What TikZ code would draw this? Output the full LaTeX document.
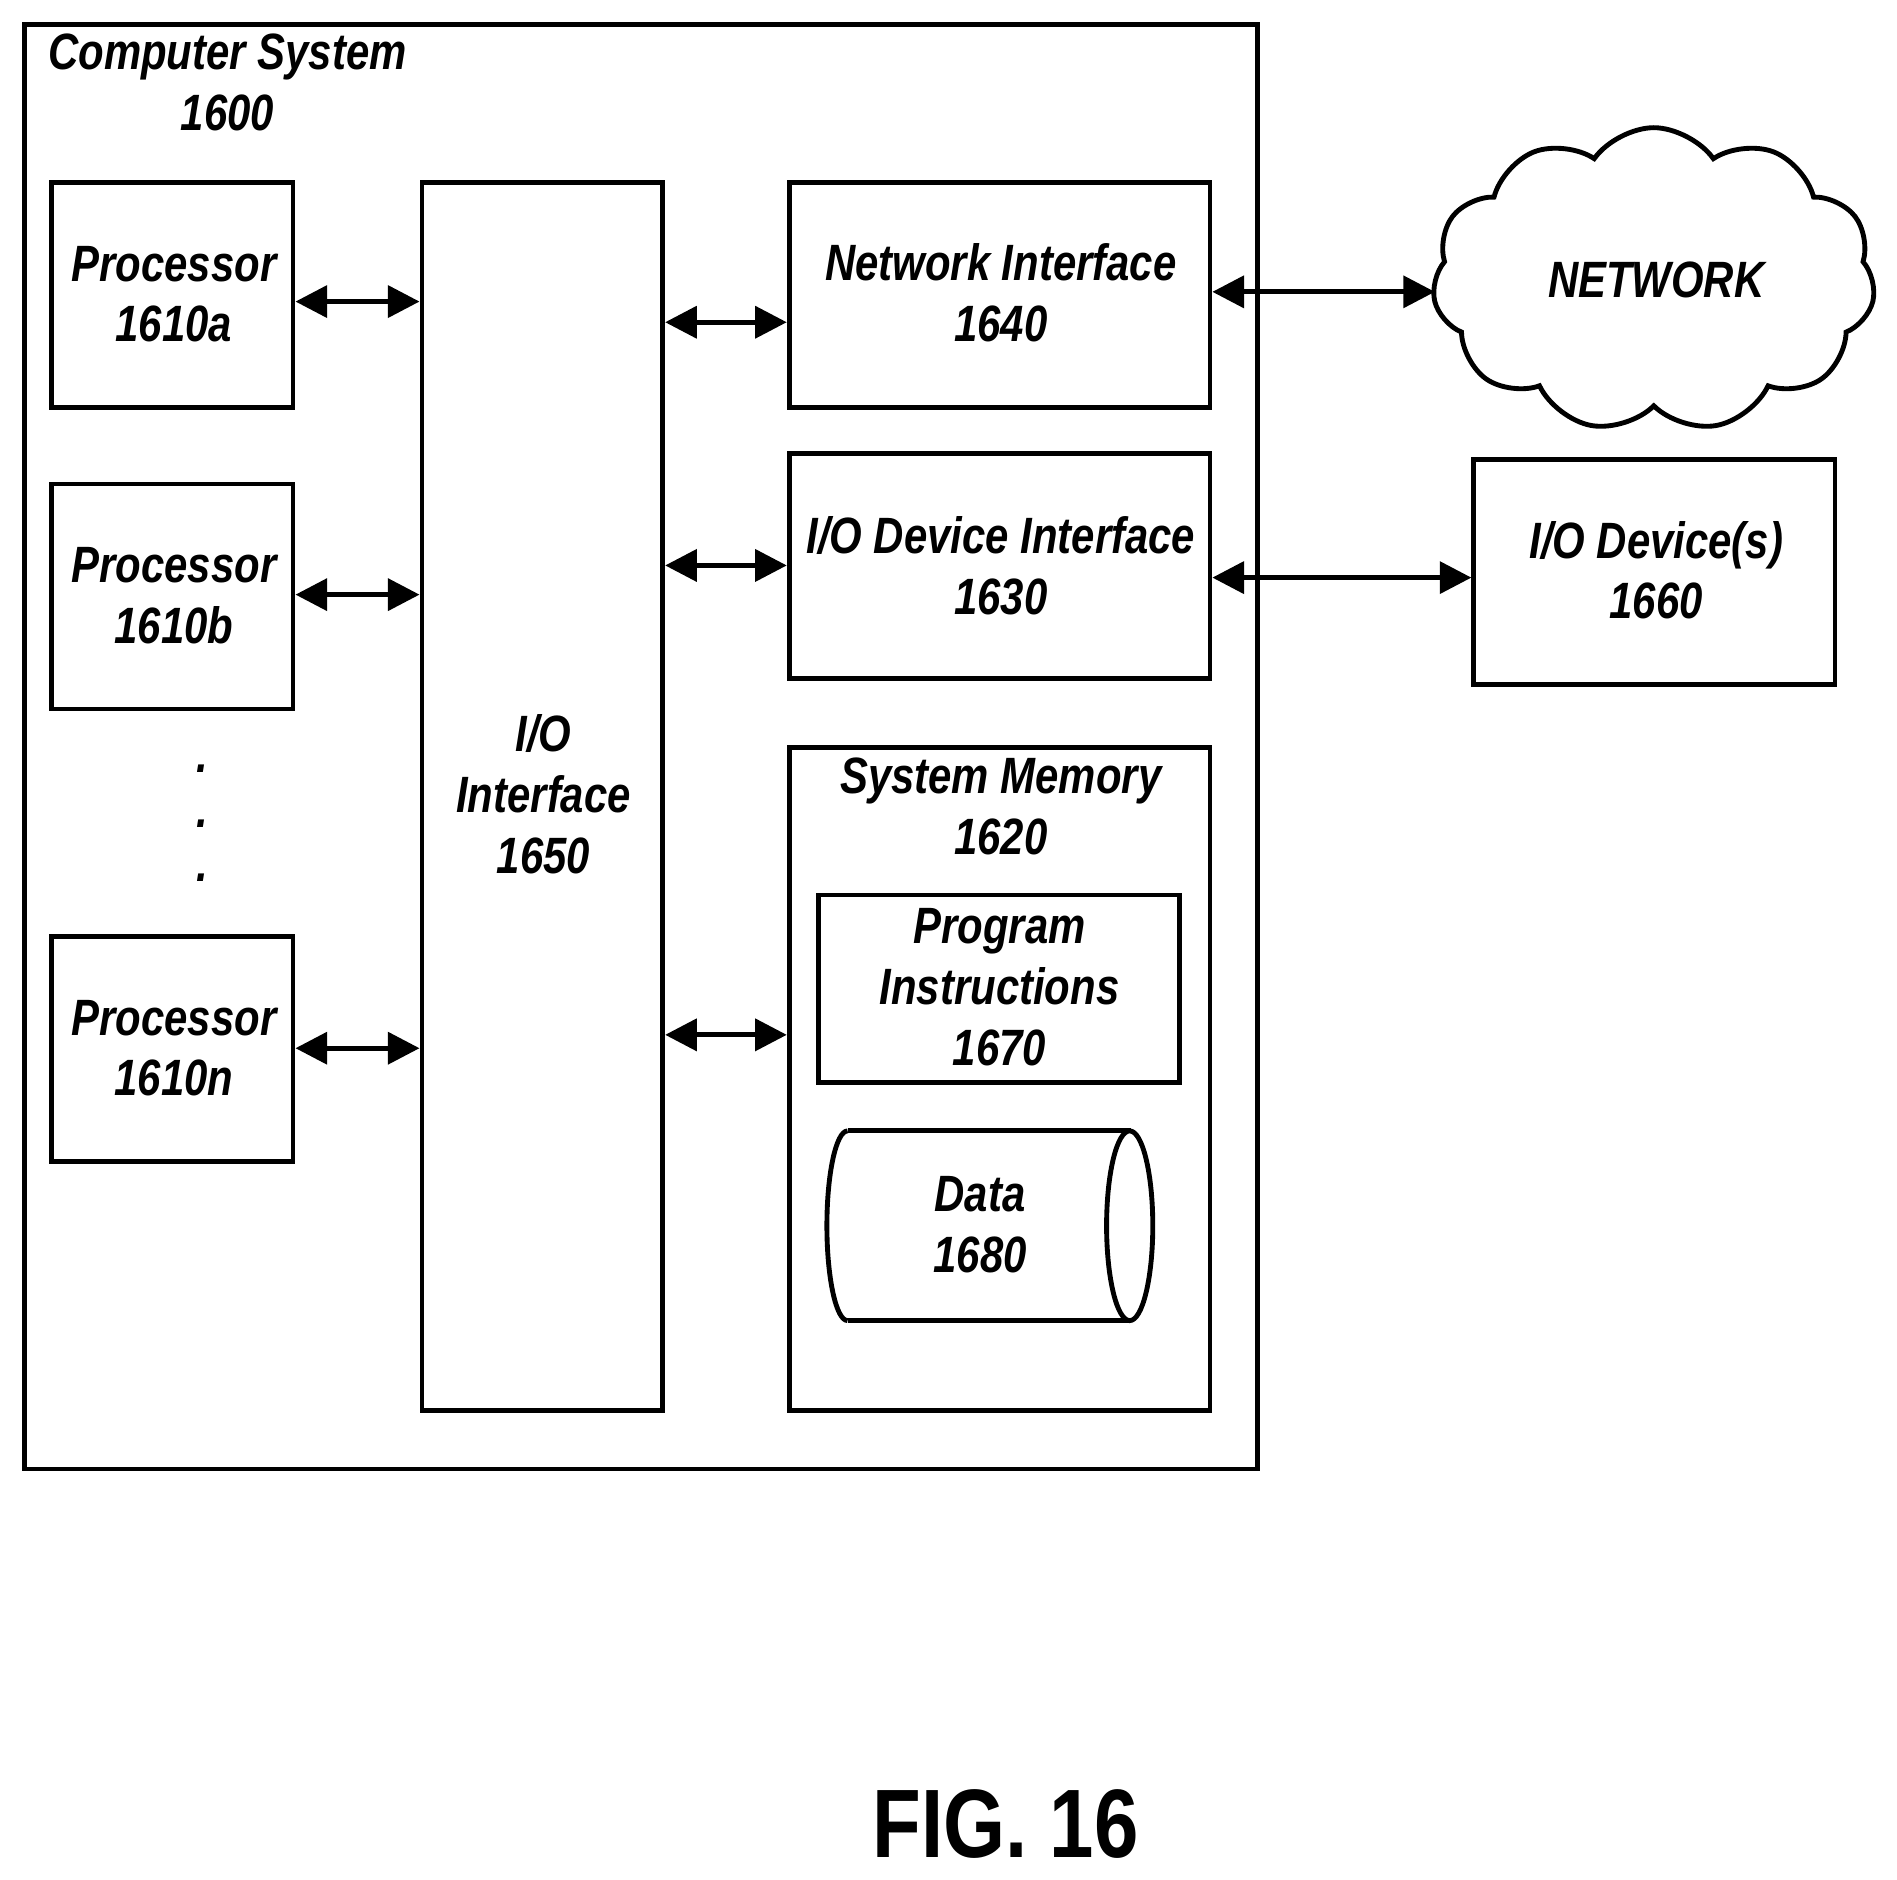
\documentclass[tikz,border=0pt]{standalone}
\usepackage{fontspec}
\setmainfont{Liberation Sans}[FakeStretch=0.82]
\usetikzlibrary{arrows.meta,shapes.symbols}
\begin{document}
\begin{tikzpicture}[x=0.5pt,y=-0.5pt,
  box/.style={draw,line width=2pt,inner sep=0pt},
  lbl/.style={align=center,font=\fontsize{21}{25}\selectfont\bfseries\itshape},
  arr/.style={line width=2pt,{Triangle[length=13pt,width=13pt]}-{Triangle[length=13pt,width=13pt]}}]
\useasboundingbox (0,0) rectangle (1560,1546);
\node[box,minimum width=507pt,minimum height=594pt] (cs) at (527,614) {};
\node[lbl] (cst) at (187,68) {Computer System\\1600};
\node[box,minimum width=99.5pt,minimum height=92.5pt] (pa) at (141.5,242.5) {};
\node[lbl] at (143,242) {Processor\\1610a};
\node[box,minimum width=99.5pt,minimum height=92.5pt] (pb) at (141.5,490.5) {};
\node[lbl] at (143,490) {Processor\\1610b};
\node[box,minimum width=99.5pt,minimum height=92.5pt] (pn) at (141.5,862.5) {};
\node[lbl] at (143,862) {Processor\\1610n};
\foreach \y/\n in {640/d1,685/d2,730/d3} \node[lbl] (\n) at (166,\y-8) {.};
\node[box,minimum width=99pt,minimum height=505pt] (io) at (446,655) {};
\node[lbl] at (447,653) {I/O\\Interface\\1650};
\node[box,minimum width=173pt,minimum height=92.5pt] (ni) at (822,242.5) {};
\node[lbl] at (823,241) {Network Interface\\1640};
\node[box,minimum width=173pt,minimum height=92.5pt] (iodi) at (822,465.5) {};
\node[lbl] at (823,465) {I/O Device Interface\\1630};
\node[box,minimum width=173pt,minimum height=272.5pt] (sm) at (822,887.5) {};
\node[lbl] at (823,663) {System Memory\\1620};
\node[box,minimum width=148.5pt,minimum height=77pt] (pi) at (821.5,813) {};
\node[lbl] at (822,812) {Program\\Instructions\\1670};
\node[box,minimum width=148.5pt,minimum height=92.5pt] (iod) at (1360.5,470.5) {};
\node[lbl] at (1362,469) {I/O Device(s)\\1660};
\node[draw,line width=2pt,cloud,cloud puffs=11,cloud puff arc=110,aspect=1.6,minimum width=182pt,minimum height=125pt] (net) at (1360,230) {};
\node[lbl] at (1362,230) {NETWORK};
% data cylinder
\coordinate (dtl) at (697,930);
\draw[line width=2pt] (dtl) -- (930,930) (697,1086) -- (930,1086);
\draw[line width=2pt] (929,1008) ellipse [x radius=9.5pt,y radius=39pt];
\draw[line width=2pt] (dtl) arc[start angle=90,end angle=270,x radius=8.5pt,y radius=39pt];
\node[lbl] (data) at (806,1007) {Data\\1680};
% arrows
\draw[arr] (pa.east |- 0,248) -- (io.west |- 0,248);
\draw[arr] (pb.east |- 0,489) -- (io.west |- 0,489);
\draw[arr] (pn.east |- 0,862) -- (io.west |- 0,862);
\draw[arr] (io.east |- 0,265) -- (ni.west |- 0,265);
\draw[arr] (io.east |- 0,465) -- (iodi.west |- 0,465);
\draw[arr] (io.east |- 0,851) -- (sm.west |- 0,851);
\draw[arr] (ni.east |- 0,240) -- (1180,240);
\draw[arr] (iodi.east |- 0,475) -- (iod.west |- 0,475);
\node[font=\fontsize{40}{46}\selectfont\bfseries] (fig) at (827,1500) {FIG. 16};
\end{tikzpicture}
\end{document}
